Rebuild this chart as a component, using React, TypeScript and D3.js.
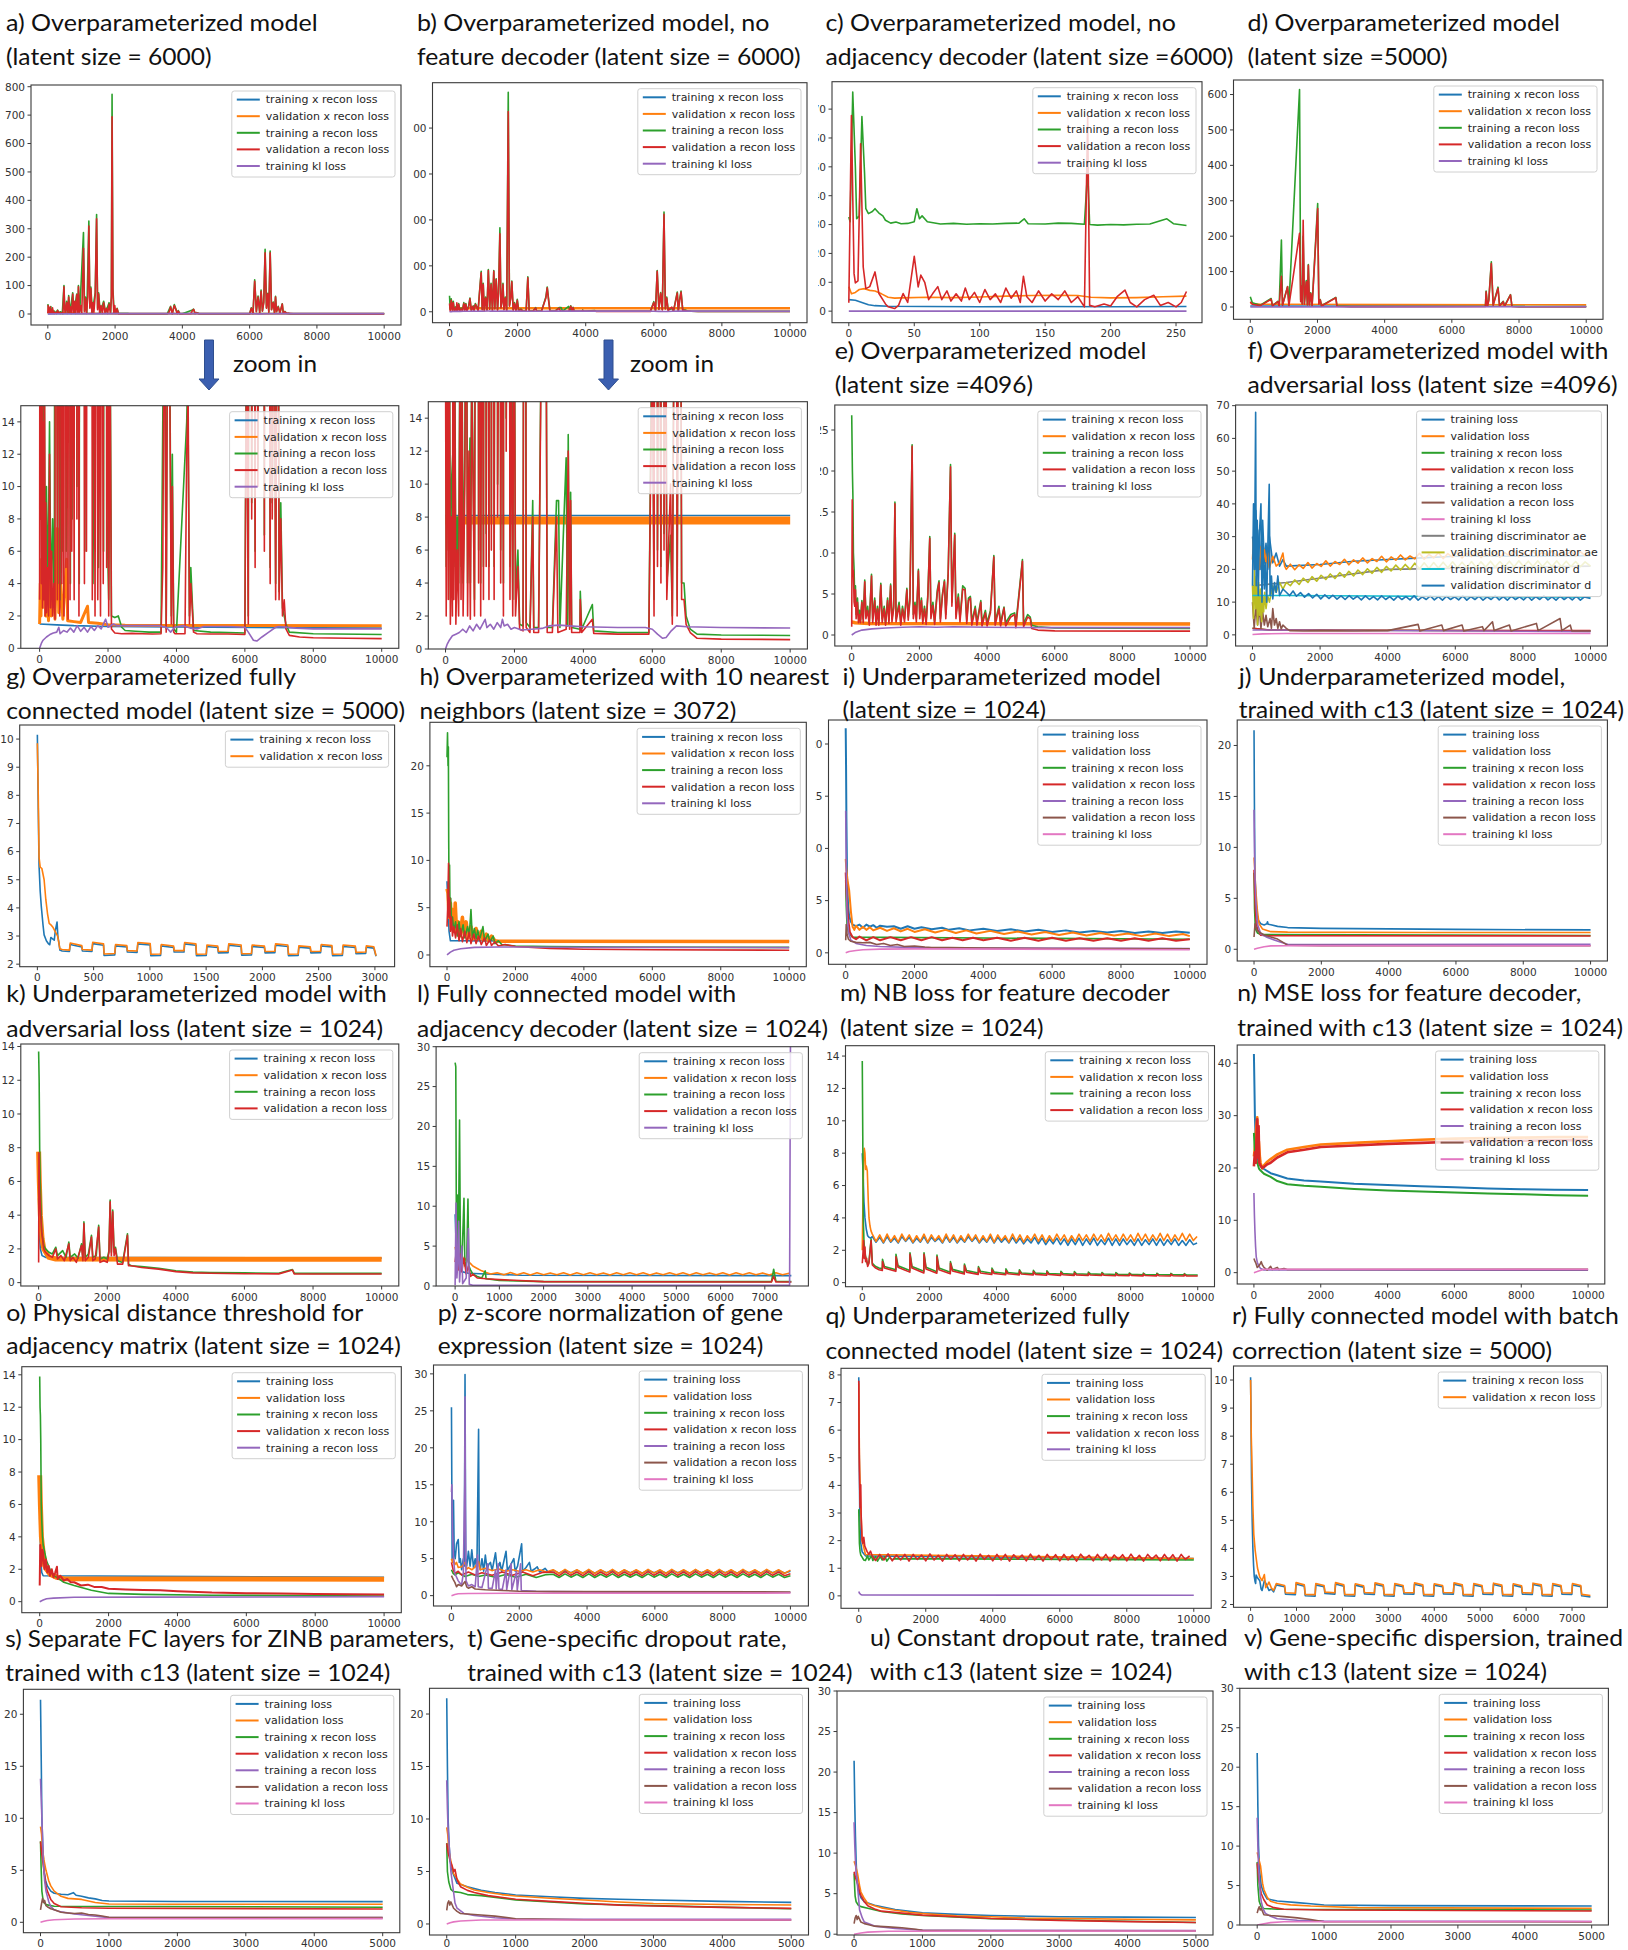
import React from "react";
import * as d3 from "d3";

// ---------- palette (matplotlib tab10) ----------
const BLUE = "#1f77b4";
const ORANGE = "#ff7f0e";
const GREEN = "#2ca02c";
const RED = "#d62728";
const PURPLE = "#9467bd";
const BROWN = "#8c564b";
const PINK = "#e377c2";
const GRAY = "#7f7f7f";
const OLIVE = "#bcbd22";
const CYAN = "#17becf";

type Pt = [number, number];
const pairs = (flat: number[]): Pt[] => {
  const out: Pt[] = [];
  for (let i = 0; i + 1 < flat.length; i += 2) out.push([flat[i], flat[i + 1]]);
  return out;
};
// values read at a regular epoch spacing
const sampled = (x0: number, dx: number, ys: number[]): number[] =>
  ys.flatMap((y, i) => [x0 + i * dx, y]);

// ---------- tick values ----------
const X10K = [0, 2000, 4000, 6000, 8000, 10000];
const X5K = [0, 1000, 2000, 3000, 4000, 5000];
const X3K = [0, 500, 1000, 1500, 2000, 2500, 3000];
const X7K = [0, 1000, 2000, 3000, 4000, 5000, 6000, 7000];
const X250 = [0, 50, 100, 150, 200, 250];
const Y800 = [0, 100, 200, 300, 400, 500, 600, 700, 800];
const Y400 = [0, 100, 200, 300, 400];
const Y600 = [0, 100, 200, 300, 400, 500, 600];
const Y70 = [0, 10, 20, 30, 40, 50, 60, 70];
const Y14 = [0, 2, 4, 6, 8, 10, 12, 14];
const Y25 = [0, 5, 10, 15, 20, 25];
const Y20 = [0, 5, 10, 15, 20];
const Y30 = [0, 5, 10, 15, 20, 25, 30];
const Y40 = [0, 10, 20, 30, 40];
const Y2to10 = [2, 3, 4, 5, 6, 7, 8, 9, 10];
const Y8 = [0, 1, 2, 3, 4, 5, 6, 7, 8];

// ---------- legend labels ----------
const L5 = ["training x recon loss", "validation x recon loss", "training a recon loss", "validation a recon loss", "training kl loss"];
const L7 = ["training loss", "validation loss", "training x recon loss", "validation x recon loss", "training a recon loss", "validation a recon loss", "training kl loss"];
const LO = ["training loss", "validation loss", "training x recon loss", "validation x recon loss", "training a recon loss"];
const LQ = ["training loss", "validation loss", "training x recon loss", "validation x recon loss", "training kl loss"];
const LF = ["training loss", "validation loss", "training x recon loss", "validation x recon loss", "training a recon loss", "validation a recon loss", "training kl loss", "training discriminator ae", "validation discriminator ae", "training discriminator d", "validation discriminator d"];

// ---------- (a) overparameterized, latent 6000 ----------
const aTrainX = [0,1.5, 500,1.45, 1000,1.4, 2000,1.35, 5000,1.3, 10000,1.25];
const aValX = [0,1.5, 20,4, 40,2, 60,5.5, 80,2.5, 100,7, 120,3, 150,6.5, 180,2, 220,3.8, 260,1.7, 300,5.5, 340,2, 400,3.5, 450,1.8, 520,7.4, 560,2.2, 620,4, 680,1.8, 790,5.5, 820,1.7, 1000,1.65, 1200,1.6, 1400,2.6, 1430,1.6, 1700,1.55, 2000,1.45, 2500,1.42, 10000,1.4];
const aTrainA = [0,35, 15,25, 30,10, 50,20, 70,9, 90,26, 110,4, 140,15, 170,3, 200,10, 240,3, 290,14, 330,3, 380,8, 430,2.5, 480,100, 500,25, 530,4, 560,45, 600,3, 620,65, 660,6, 740,75, 780,6, 860,70, 900,4, 910,100, 950,8, 1060,287, 1090,10, 1120,60, 1160,4, 1220,327, 1250,25, 1280,95, 1320,6, 1410,75, 1450,350, 1480,20, 1510,75, 1560,4, 1660,45, 1720,5, 1820,40, 1870,6, 1890,65, 1910,773, 1935,90, 1970,8, 2020,3, 2060,20, 2100,2, 2200,1.9, 2300,2.0, 2400,1.3, 2500,1.1, 2800,1.05, 3200,1.0, 3550,1.0, 3650,27, 3700,1.2, 3760,33, 3800,20, 3850,2, 3880,12, 3920,1.2, 4000,1.0, 4300,14, 4330,17, 4380,2, 4420,5, 4500,1.1, 5000,1.0, 6000,0.95, 6050,22, 6100,2, 6150,120, 6200,9, 6250,63, 6300,6, 6340,84, 6380,11, 6420,43, 6460,228, 6500,22, 6540,73, 6570,7, 6610,222, 6650,16, 6700,42, 6740,5, 6770,62, 6800,9, 6850,27, 6900,4, 6970,36, 7000,3.5, 7050,9, 7100,2.5, 7200,1.5, 7300,1.0, 8000,0.9, 10000,0.85];
const aValA = [0,3, 10,30, 25,8, 40,20, 55,4, 70,25, 85,2.5, 100,14, 120,3, 140,22, 160,2, 180,9, 200,2.2, 230,5, 260,2, 290,12, 320,2.5, 350,6, 380,2, 420,4, 450,1.8, 480,96, 500,20, 520,3, 560,40, 590,2, 620,60, 650,4, 680,25, 710,2, 740,70, 770,5, 800,45, 830,1.8, 860,68, 890,3, 910,96, 940,6, 980,30, 1010,3, 1060,231, 1090,8, 1120,55, 1150,2, 1190,60, 1220,310, 1250,20, 1280,90, 1310,4, 1340,40, 1370,6, 1410,70, 1450,335, 1480,15, 1510,70, 1540,3, 1580,30, 1620,2, 1660,40, 1700,3, 1740,20, 1780,2, 1820,35, 1860,4, 1890,60, 1910,694, 1935,80, 1960,5, 1990,30, 2020,2, 2060,18, 2100,1.2, 2200,0.95, 2400,0.9, 2700,0.92, 3000,0.9, 3300,0.88, 3550,0.9, 3600,5, 3650,25, 3700,1, 3760,30, 3800,18, 3850,1.5, 3880,10, 3920,1, 3960,0.9, 4250,0.9, 4300,12, 4340,16, 4380,1.5, 4420,4, 4500,1, 4600,0.9, 5000,0.88, 5500,0.88, 6000,0.85, 6050,20, 6100,1.5, 6150,115, 6200,8, 6250,60, 6300,5, 6340,80, 6380,10, 6420,40, 6460,215, 6500,20, 6540,70, 6570,6, 6610,215, 6650,15, 6700,40, 6740,4, 6770,60, 6800,8, 6850,25, 6900,3, 6970,35, 7000,3, 7050,8, 7100,2, 7150,3, 7200,1.2, 7300,0.8, 7600,0.7, 8000,0.65, 9000,0.62, 10000,0.6];
const aKl = [0,0, 50,0.3, 100,0.5, 200,0.7, 300,0.85, 400,0.95, 500,1.0, 560,1.3, 600,0.9, 700,1.1, 800,1.0, 900,1.25, 1000,1.0, 1100,1.4, 1200,1.05, 1300,1.3, 1400,1.0, 1500,1.35, 1600,1.1, 1700,1.4, 1800,1.2, 1930,1.8, 2000,1.3, 2160,1.5, 2250,1.4, 2500,1.4, 3000,1.4, 3500,1.4, 3700,1.3, 3830,1.0, 3950,1.3, 4200,1.4, 4400,1.25, 4600,1.2, 4800,1.35, 5500,1.35, 6000,1.3, 6100,1.0, 6250,0.5, 6350,0.45, 6500,0.7, 6700,1.0, 6900,1.3, 7000,1.35, 7500,1.25, 8000,1.2, 10000,1.2];

// ---------- (b) no feature decoder, latent 6000 ----------
const bTrainX = [0,8.1, 10000,8.1];
const bValX = [0,7.8, 10000,7.8];
const bTrainA = [0,35, 20,5, 50,28, 80,6, 110,23, 140,3, 170,10, 210,11.8, 240,5, 270,18, 300,3, 340,8, 380,4, 420,20, 450,5, 480,18, 510,4, 560,12, 600,30, 640,4, 710,12.8, 720,4, 760,18, 800,11, 840,3, 880,42, 930,88, 960,6, 990,62, 1020,4, 1060,32, 1100,5, 1140,92, 1180,7, 1220,62, 1260,5, 1300,90, 1330,8, 1370,72, 1410,5, 1440,42, 1480,183, 1510,10, 1540,22, 1570,62, 1600,6, 1640,32, 1680,4, 1725,478, 1760,14, 1800,32, 1830,67, 1870,5, 1910,20, 1950,3, 1990,27, 2030,3, 2100,6, 2150,1.5, 2250,1.4, 2300,76, 2340,1.6, 2450,1.3, 2530,9, 2560,1.3, 2700,1.3, 2830,32, 2870,54, 2910,27, 2950,1.3, 3100,1.3, 3220,9, 3280,9, 3320,1.3, 3500,11.6, 3540,1.4, 3560,13, 3600,1.4, 3630,9.5, 3660,1.3, 3900,1.2, 3910,3.5, 3950,1.2, 4260,2.7, 4300,1.1, 5000,1.0, 5900,1.0, 6000,22, 6050,3, 6100,90, 6150,6, 6200,42, 6250,5, 6300,217, 6340,7, 6380,32, 6420,4, 6530,6.9, 6580,2, 6690,43, 6720,3, 6760,27, 6800,45, 6850,4, 6920,4, 6980,2, 7100,1.2, 7300,0.9, 8000,0.85, 10000,0.82];
const bValA = [0,18, 20,2, 50,25, 80,3, 110,20, 140,1.5, 170,8, 200,2, 215,19.5, 240,3, 270,16, 300,1.5, 340,6, 380,2, 420,18, 450,3, 480,16, 510,2, 560,10, 600,28, 640,2, 680,12, 720,1.8, 760,16, 800,10, 840,2, 880,40, 930,85, 960,4, 990,60, 1020,2, 1060,30, 1100,3, 1140,90, 1180,5, 1220,60, 1260,3, 1300,88, 1330,6, 1370,70, 1410,3, 1440,40, 1480,170, 1510,8, 1540,20, 1570,60, 1600,4, 1640,30, 1680,2, 1725,436, 1760,12, 1800,30, 1830,65, 1870,3, 1910,18, 1950,2, 1990,25, 2030,2, 2100,5, 2150,1.2, 2250,1.1, 2300,74, 2340,1.3, 2450,1.0, 2530,8, 2560,1.0, 2700,1.0, 2830,30, 2870,52, 2910,25, 2950,1.0, 3100,1.0, 3220,8, 3260,1.0, 3500,1.2, 3560,12, 3600,1.2, 3630,9, 3660,1.0, 3900,1.0, 3910,3, 3950,1.0, 4260,1.8, 4300,0.95, 5000,0.9, 5900,0.9, 6000,20, 6050,2, 6100,88, 6150,5, 6200,40, 6250,4, 6300,212, 6340,6, 6380,30, 6420,3, 6530,10, 6580,1.5, 6690,41, 6720,2, 6760,25, 6800,43, 6850,3, 6920,3, 6980,1.5, 7100,1.0, 7300,0.65, 8000,0.6, 10000,0.57];
const bKl = [0,0, 50,0.3, 100,0.5, 200,0.8, 300,0.9, 400,1.0, 500,1.2, 600,1.0, 700,1.4, 800,1.1, 900,1.5, 1000,1.2, 1100,1.6, 1150,1.8, 1200,1.3, 1300,1.5, 1400,1.2, 1500,1.6, 1600,1.3, 1650,1.8, 1700,1.4, 1800,1.5, 1900,1.2, 2000,1.3, 2200,1.15, 2500,1.2, 2800,1.25, 3000,1.4, 3300,1.45, 3600,1.4, 4000,1.35, 5000,1.3, 5800,1.3, 6000,1.2, 6150,0.9, 6300,0.65, 6400,0.7, 6550,1.1, 6700,1.4, 7000,1.35, 8000,1.3, 10000,1.27];

// ---------- (c) no adjacency decoder, latent 6000 (epochs) ----------
const cTrainX = [0,4, 5,3.8, 10,3, 15,2.2, 20,1.9, 30,1.7, 60,1.6, 100,1.55, 150,1.6, 200,1.55, 258,1.6];
const cValX = [0,8.5, 2,6, 5,6.5, 8,7.5, 12,7.8, 16,7.2, 20,7.0, 25,6.0, 30,4.8, 35,4.5, 40,4.6, 60,4.8, 80,4.7, 100,4.9, 120,5.2, 140,5.4, 160,5.5, 175,5.4, 185,4.8, 200,4.6, 220,4.7, 240,5.0, 258,5.2];
const cTrainA = [0,32.6, 1,31, 3,75.9, 5,50, 6,32, 8,33, 10,67.4, 12,48, 13,35.5, 15,33.8, 18,34.5, 20,35.5, 23,34, 26,33, 28,31.5, 32,30.5, 36,30.9, 40,30.3, 45,30.4, 50,31, 52,35.5, 54,32, 56,33, 60,31, 70,30.2, 80,30.4, 90,30.1, 100,30.3, 110,30.2, 120,30.4, 130,30.5, 134,32, 137,30.3, 150,30.2, 160,30.5, 170,30.4, 180,30.1, 182.5,49, 184,30, 190,29.8, 200,30.0, 210,29.9, 220,30.1, 230,30.2, 243,32, 248,30.3, 258,29.7];
const cValA = [0,2.9, 2,67.8, 4,13, 5,9.8, 7,10.5, 9,58, 11,15.3, 13,7.8, 16,8.5, 20,13.6, 23,6.1, 28,2.5, 30,1.5, 35,0.9, 38,2, 41.5,6.1, 45,3, 50,19, 53,8.4, 55,12.5, 58,10, 61,4, 64,6, 68,8.5, 71,4, 75,7, 78,3.5, 82,6, 86,3.5, 89,8, 92,4, 96,6.5, 100,3, 104,7.5, 108,4, 112,6, 116,3, 120,8, 124,4.5, 128,7, 131,3, 133.4,12.1, 136,5, 140,3, 145,7, 150,3.5, 155,6, 160,4, 165,7, 170,3, 175,5, 180,1.5, 182.5,67.5, 184,2, 188,1.5, 195,2.5, 200,1.8, 205,5, 211,7.3, 215,3, 220,1.5, 226,4, 233,5.5, 238,2, 244,3, 250,1.5, 254,3, 258,6.8];
const cKl = [0,0, 258,0];

// ---------- (d) overparameterized, latent 5000 ----------
const dTrainX = [0,3, 10000,2];
const dValX = [0,10, 300,8, 10000,6];
const dTrainA = [0,29, 60,12, 300,5, 620,24, 660,4, 820,16, 860,4, 926,189, 960,6, 1110,58, 1150,5, 1466,614, 1500,20, 1520,60, 1545,10, 1574,200, 1610,10, 1666,75, 1700,8, 1728,120, 1760,8, 1800,40, 1840,5, 2006,292, 2040,10, 2083,21, 2120,4, 2546,27, 2580,3, 3000,1.5, 7000,2, 7020,45, 7060,3, 7100,20, 7175,128, 7230,6, 7375,56, 7420,4, 7530,16, 7570,3, 7746,35, 7790,2, 8000,1.2, 10000,1];
const dValA = [0,15, 60,8, 300,4, 620,22, 660,3, 820,15, 860,3, 926,87, 960,5, 1110,57, 1150,4, 1466,208, 1500,15, 1520,58, 1545,8, 1574,245, 1610,8, 1666,71, 1700,6, 1728,118, 1760,6, 1800,38, 1840,4, 2006,278, 2040,8, 2083,20, 2120,3, 2546,26, 2580,2, 3000,1, 7000,1.5, 7020,43, 7060,2, 7100,18, 7175,123, 7230,5, 7375,53, 7420,3, 7530,15, 7570,2, 7746,34, 7790,1.5, 8000,0.8, 10000,0.7];
const dKl = [0,0, 10000,1];

// ---------- (e) overparameterized, latent 4096 ----------
const eTrainX = [0,1.5, 200,1.45, 10000,1.4];
const eValX = [0,1.6, 100,1.5, 500,1.4, 10000,1.35];
const eTrainA = [0,26.8, 20,20, 35,17, 50,10, 70,8, 90,4, 110,6, 130,2.5, 170,4.5, 200,2, 230,3, 260,1.8, 300,4.2, 340,2, 385,6.7, 420,2.5, 470,3.5, 520,1.6, 585,7.4, 620,2, 680,4.5, 720,1.6, 760,3.5, 800,1.5, 860,6.3, 900,2, 960,3.5, 1000,1.5, 1060,4.5, 1100,1.8, 1150,6.2, 1190,2.0, 1240,3.5, 1277,16.2, 1310,2, 1400,4, 1450,1.5, 1500,3.5, 1560,2, 1630,5.7, 1670,2.2, 1720,4.5, 1785,23.2, 1820,2.5, 1870,4, 1910,2, 1970,8.0, 2010,2.5, 2060,4.5, 2100,1.8, 2150,3.5, 2200,1.7, 2250,5, 2307,12, 2340,2.5, 2400,4, 2450,1.7, 2530,5.5, 2580,6.6, 2620,2, 2680,5, 2740,6.7, 2780,2.5, 2850,7.5, 2920,20.8, 2960,4, 3045,12.4, 3080,2.5, 3150,5, 3200,2, 3280,6, 3350,5.7, 3400,1.8, 3450,4.5, 3507,4.7, 3550,1.6, 3650,3.5, 3700,1.6, 3815,4.2, 3850,1.5, 3950,3, 4000,1.5, 4100,3, 4200,9.7, 4240,1.6, 4350,3.5, 4400,1.5, 4500,3.4, 4550,1.5, 4700,2.5, 4815,2.7, 4850,1.3, 5045,9.2, 5080,1.4, 5200,2.5, 5275,2.2, 5320,1.2, 5500,1.0, 6000,0.85, 10000,0.8];
const eValA = [0,1.0, 15,16.5, 30,8, 50,7.8, 70,4, 90,3.5, 110,5.5, 130,2, 170,4, 200,1.5, 230,2.5, 260,1.5, 300,4, 340,1.5, 385,6.5, 420,2, 470,3, 520,1.2, 585,7.2, 620,1.5, 680,4.2, 720,1.2, 760,3.2, 800,1.2, 860,6.1, 900,1.5, 960,3.2, 1000,1.2, 1060,4.2, 1100,1.4, 1150,6.0, 1190,1.6, 1240,3.2, 1277,16.0, 1310,1.6, 1400,3.6, 1450,1.2, 1500,3.2, 1560,1.6, 1630,5.5, 1670,1.8, 1720,4.2, 1785,23.0, 1820,2, 1870,3.6, 1910,1.6, 1970,7.8, 2010,2, 2060,4.2, 2100,1.4, 2150,3.2, 2200,1.3, 2250,4.7, 2307,11.8, 2340,2, 2400,3.6, 2450,1.3, 2530,5.2, 2580,6.4, 2620,1.6, 2680,4.7, 2740,6.5, 2780,2, 2850,7.3, 2920,20.5, 2960,3.5, 3045,12.2, 3080,2, 3150,4.6, 3200,1.6, 3280,5.6, 3350,5.5, 3400,1.4, 3450,4.2, 3507,4.5, 3550,1.2, 3650,3.2, 3700,1.2, 3815,4.0, 3850,1.1, 3950,2.7, 4000,1.1, 4100,2.7, 4200,9.5, 4240,1.2, 4350,3.2, 4400,1.1, 4500,3.3, 4550,1.1, 4700,2.2, 4815,2.5, 4850,0.9, 5045,9.0, 5080,1.0, 5200,2.2, 5275,2.0, 5320,0.8, 5500,0.6, 6000,0.5, 10000,0.48];
const eKl = [0,0, 100,0.3, 300,0.6, 600,0.75, 1000,0.85, 1500,0.95, 2000,1.0, 2500,0.95, 3000,1.0, 4000,0.95, 5000,0.92, 6000,0.9, 10000,0.9];

// ---------- (f) adversarial loss, latent 4096 ----------
const fTrain = [0,30, 50,25, 100,38, 150,22, 200,32, 250,20, 300,35, 350,22, 400,28, 450,20, 500,30, 600,22, 700,25, 800,21, 900,23, 1000,21, 2000,21.5, 3000,22.5, 4000,23, 5000,23.5, 6000,24, 8000,24, 10000,24.2];
const fVal = [0,23, 30,30, 60,20, 90,28, 120,22, 160,26, 200,20, 250,27, 300,21, 350,26, 400,22, 450,25, 500,20.5, 600,24, 700,21, 800,22, 900,25, 950,21, 1000,20, 1120,21.6, 1250,19.9, 1380,21.4, 1500,20.3, 1640,22.1, 1760,20.4, 1900,21.8, 2030,20.9, 2170,22.6, 2300,21.0, 2440,22.4, 2580,21.5, 2720,23.1, 2850,21.4, 2990,22.9, 3120,21.9, 3260,23.5, 3400,22.0, 3540,23.3, 3680,22.4, 3820,24.0, 3960,22.3, 4100,23.8, 4240,22.8, 4380,24.4, 4520,22.9, 4660,24.1, 4800,23.2, 4940,24.9, 5080,23.1, 5220,24.6, 5360,23.5, 5500,25.1, 5640,23.3, 5780,24.8, 5920,23.7, 6060,25.3, 6200,23.5, 6340,24.9, 6480,23.9, 6620,25.4, 6760,23.6, 6900,25.0, 7040,24.0, 7180,25.5, 7320,23.7, 7460,25.1, 7600,24.1, 7740,25.6, 7880,23.8, 8020,25.2, 8160,24.2, 8300,25.6, 8440,23.9, 8580,25.3, 8720,24.2, 8860,25.7, 9000,24.0, 9140,25.3, 9280,24.3, 9420,25.7, 9560,24.0, 9700,25.4, 9840,24.2, 10000,25.0];
const fTrainX = [0,2, 500,1.5, 10000,1.2];
const fValX = [0,2, 500,1.5, 10000,1.3];
const fTrainA = [0,1.5, 10000,1];
const fValA = [0,10, 50,2, 100,9, 150,3, 200,8.5, 250,2, 300,7, 350,3, 400,6, 450,2.5, 520,5, 560,2, 600,8, 650,3, 700,5, 750,2, 800,4, 850,1.8, 900,3, 1000,2, 1100,1.3, 1500,1.2, 2000,1.3, 3000,1.2, 4000,1.3, 4900,3.2, 4950,1.2, 5600,3, 5650,1.3, 6200,3, 6250,1.2, 6800,2.5, 6850,1.3, 7100,4, 7150,1.3, 7600,3, 7650,1.2, 8400,3.5, 8450,1.3, 9100,5, 9150,1.3, 9400,3, 9450,1.2, 10000,1.2];
const fKl = [0,0.1, 300,0.3, 1000,0.4, 10000,0.4];
const fTrainDAe = [0,15, 1000,16, 4000,20, 10000,21];
const fValDAe = [0,15, 30,5, 60,20, 90,8, 120,18, 150,3, 180,16, 210,6, 240,14, 270,4, 300,12, 330,7, 360,13, 400,8, 450,12, 500,10, 600,15, 700,13, 800,16, 900,14, 1000,16, 1120,15.0, 1250,16.8, 1380,15.4, 1500,17.3, 1640,16.0, 1760,17.8, 1900,16.4, 2030,18.2, 2170,16.9, 2300,18.6, 2440,17.2, 2580,19.0, 2720,17.6, 2850,19.4, 2990,18.0, 3120,19.8, 3260,18.4, 3400,20.2, 3540,18.8, 3680,20.6, 3820,19.1, 3960,20.9, 4100,19.5, 4240,21.3, 4380,19.8, 4520,21.5, 4660,20.0, 4800,21.9, 4940,20.2, 5080,22.0, 5220,20.3, 5360,22.1, 5500,20.4, 5640,22.2, 5780,20.5, 5920,22.3, 6060,20.5, 6200,22.2, 6340,20.6, 6480,22.4, 6620,20.6, 6760,22.3, 6900,20.7, 7040,22.5, 7180,20.7, 7320,22.4, 7460,20.8, 7600,22.5, 7740,20.8, 7880,22.6, 8020,20.9, 8160,22.5, 8300,20.9, 8440,22.6, 8580,20.8, 8720,22.5, 8860,20.9, 9000,22.6, 9140,20.8, 9280,22.5, 9420,20.9, 9560,22.4, 9700,20.8, 9840,22.3, 10000,21.0];
const fTrainDD = [0,12, 1000,12, 10000,11.5];
const fValDD = [0,15, 30,40, 60,20, 93,68, 110,15, 140,35, 170,12, 200,30, 250,40, 280,10, 310,28, 350,14, 380,22, 420,10, 460,30, 495,46, 520,12, 560,18, 600,11, 650,16, 700,13, 750,18, 800,12, 900,14, 1000,13, 1100,12.0, 1200,13.4, 1300,11.8, 1420,12.9, 1540,11.5, 1660,12.6, 1780,11.3, 1900,12.4, 2020,11.0, 2140,12.2, 2260,11.1, 2380,12.1, 2500,10.9, 2620,11.9, 2740,10.8, 2860,12.0, 2980,10.9, 3100,11.8, 3220,10.7, 3340,11.9, 3460,10.8, 3580,11.7, 3700,10.7, 3820,11.9, 3940,10.8, 4060,11.7, 4180,10.6, 4300,11.8, 4420,10.8, 4540,11.7, 4660,10.7, 4780,11.9, 4900,10.6, 5020,11.6, 5140,10.8, 5260,11.9, 5380,10.7, 5500,11.7, 5620,10.6, 5740,11.8, 5860,10.8, 5980,11.6, 6100,10.7, 6220,11.9, 6340,10.6, 6460,11.7, 6580,10.8, 6700,11.8, 6820,10.6, 6940,11.6, 7060,10.8, 7180,11.9, 7300,10.7, 7420,11.7, 7540,10.6, 7660,11.8, 7780,10.8, 7900,11.6, 8020,10.7, 8140,11.8, 8260,10.6, 8380,11.7, 8500,10.8, 8620,11.9, 8740,10.7, 8860,11.6, 8980,10.6, 9100,11.8, 9220,10.8, 9340,11.7, 9460,10.7, 9580,11.8, 9700,10.6, 9820,11.6, 10000,11.1];

// ---------- (g) fully connected, latent 5000 ----------
const gTrainX = [0,10.15, 8,7.5, 15,5.5, 25,4.6, 35,4.05, 50,3.4, 60,3.04, 80,2.83, 100,2.72, 110,2.69, 120,2.95, 135,2.9, 150,2.85, 160,3.2, 175,3.5, 182,3.0, 190,2.8, 200,2.5, 220,2.47, 285,2.45, 292,2.7, 395,2.61, 400,2.47, 485,2.45, 492,2.73, 588,2.67, 593,2.31, 688,2.33, 695,2.65, 795,2.61, 800,2.43, 886,2.42, 893,2.72, 1003,2.68, 1008,2.3, 1095,2.31, 1101,2.65, 1211,2.59, 1216,2.43, 1303,2.43, 1309,2.72, 1409,2.67, 1414,2.3, 1501,2.31, 1507,2.63, 1603,2.59, 1609,2.4, 1695,2.41, 1701,2.67, 1811,2.63, 1816,2.32, 1903,2.33, 1909,2.63, 2018,2.59, 2024,2.4, 2111,2.41, 2117,2.67, 2226,2.63, 2232,2.3, 2318,2.31, 2324,2.6, 2425,2.57, 2431,2.4, 2517,2.41, 2523,2.65, 2618,2.61, 2624,2.3, 2711,2.31, 2717,2.63, 2826,2.59, 2832,2.37, 2918,2.38, 2924,2.6, 2990,2.57, 3010,2.28];
const gValX = [0,9.85, 8,8, 15,5.8, 25,5.45, 40,5.4, 60,5.0, 75,4.3, 90,3.8, 105,3.45, 120,3.4, 140,3.3, 160,3.15, 180,3.0, 200,2.55, 220,2.52, 285,2.5, 292,2.75, 395,2.66, 400,2.52, 485,2.5, 492,2.78, 588,2.72, 593,2.36, 688,2.38, 695,2.7, 795,2.66, 800,2.48, 886,2.47, 893,2.77, 1003,2.73, 1008,2.35, 1095,2.36, 1101,2.7, 1211,2.64, 1216,2.48, 1303,2.48, 1309,2.77, 1409,2.72, 1414,2.35, 1501,2.36, 1507,2.68, 1603,2.64, 1609,2.45, 1695,2.46, 1701,2.72, 1811,2.68, 1816,2.37, 1903,2.38, 1909,2.68, 2018,2.64, 2024,2.45, 2111,2.46, 2117,2.72, 2226,2.68, 2232,2.35, 2318,2.36, 2324,2.65, 2425,2.62, 2431,2.45, 2517,2.46, 2523,2.7, 2618,2.66, 2624,2.35, 2711,2.36, 2717,2.68, 2826,2.64, 2832,2.42, 2918,2.43, 2924,2.65, 2990,2.62, 3010,2.3];

// ---------- (h) 10 nearest neighbors, latent 3072 ----------
const hTrainX = [0,7.8, 30,5, 60,2.5, 100,1.5, 10000,1.45];
const hValX = [0,7, 30,6.5, 60,4, 100,5.5, 130,3, 160,4.8, 200,2.5, 240,5.5, 280,2.5, 330,3.5, 380,2, 450,4, 500,2.2, 560,3.5, 620,1.8, 700,3, 760,1.7, 850,2.8, 900,1.7, 1000,2.5, 1050,1.6, 1150,2.2, 1200,1.55, 1300,2, 1400,1.5, 1500,1.45, 10000,1.42];
const hTrainA = [0,20.9, 15,23.5, 30,20, 40,22, 50,12, 60,6, 75,9.5, 90,4, 110,6, 130,3, 160,4, 200,2.5, 250,3.5, 300,2, 350,3.5, 400,2, 470,3.2, 520,1.8, 600,3.0, 650,2, 700,4.8, 740,1.8, 800,2.8, 850,1.7, 900,2.6, 950,1.6, 1050,3.0, 1100,1.5, 1200,2.2, 1250,1.4, 1350,2.0, 1400,1.2, 1500,1.5, 1600,1.1, 2000,0.95, 3000,0.9, 5000,0.85, 10000,0.8];
const hValA = [0,3, 20,5, 45,9.7, 60,4, 80,6, 100,2.5, 130,4, 160,2, 200,3, 250,1.8, 300,3.2, 350,1.5, 400,2.8, 450,1.4, 520,2.5, 580,1.3, 650,2.4, 700,1.2, 780,2.2, 850,1.2, 920,2, 1000,1.1, 1100,1.8, 1150,1.0, 1250,1.6, 1300,1.0, 1400,1.4, 1500,0.95, 1700,1.1, 2000,0.9, 3000,0.7, 4000,0.6, 6000,0.55, 10000,0.5];
const hKl = [0,0, 100,0.3, 200,0.5, 400,0.65, 800,0.8, 1500,0.85, 2000,0.85, 3000,0.82, 5000,0.8, 10000,0.78];

// ---------- (i) underparameterized, latent 1024 ----------
const iTrain = [0,21.5, 10,18, 20,13, 40,7, 70,4.5, 100,3.5, 150,3.0, 200,2.7, 300,2.56, 400,2.7, 500,2.4, 600,2.7, 700,2.5, 800,2.65, 900,2.4, 1000,2.6, 1200,2.5, 1400,2.55, 1600,2.3, 1800,2.55, 2000,2.3, 2200,2.45, 2500,2.25, 2800,2.4, 3000,2.2, 3300,2.35, 3600,2.15, 4000,2.3, 4400,2.1, 4800,2.25, 5200,2.05, 5600,2.2, 6000,2.0, 6400,2.15, 6800,1.95, 7200,2.1, 7600,1.95, 8000,2.1, 8400,1.9, 8800,2.05, 9200,1.9, 9600,2.05, 10000,1.92];
const iVal = [0,9, 20,8, 50,7, 100,6, 150,4, 200,2.5, 250,2.2, 300,2.6, 400,2.2, 500,2.5, 600,2.2, 700,2.45, 800,2.15, 1000,2.4, 1200,2.1, 1400,2.35, 1600,2.05, 1800,2.3, 2000,2.0, 2300,2.25, 2600,1.95, 2900,2.2, 3200,1.9, 3500,2.15, 3800,1.85, 4200,2.1, 4600,1.8, 5000,2.05, 5400,1.75, 5800,2.0, 6200,1.7, 6600,1.95, 7000,1.65, 7400,1.9, 7800,1.65, 8200,1.85, 8600,1.6, 9000,1.85, 9400,1.6, 9800,1.8, 10000,1.6];
const iTrainX = [0,7, 15,4.5, 40,2.5, 100,1.8, 200,1.5, 10000,1.3];
const iValX = [0,7.7, 20,6, 50,4, 80,3, 120,2, 200,1.5, 300,1.3, 400,1.55, 600,1.2, 800,1.5, 1000,1.2, 1300,1.5, 1600,1.2, 1900,1.5, 2200,1.2, 2500,1.5, 2800,1.2, 3100,1.45, 3400,1.2, 3700,1.45, 4000,1.2, 4400,1.45, 4800,1.15, 5200,1.45, 5600,1.15, 6000,1.45, 6400,1.15, 6800,1.4, 7200,1.15, 7600,1.4, 8000,1.15, 8400,1.4, 8800,1.15, 9200,1.4, 9600,1.15, 10000,1.3];
const iTrainA = [0,13.6, 15,8, 40,3.5, 80,2, 150,1.2, 300,0.9, 600,0.7, 1000,0.6, 2000,0.5, 4000,0.45, 10000,0.42];
const iValA = [0,1.2, 15,2.7, 40,1.8, 80,1.3, 150,1.1, 300,1.0, 500,0.96, 700,1.0, 900,0.8, 1100,0.9, 1300,0.7, 1500,0.8, 1700,0.6, 2000,0.65, 2300,0.55, 2500,0.51, 3000,0.5, 4000,0.45, 6000,0.42, 8000,0.4, 10000,0.38];
const iKl = [0,0, 100,0.12, 300,0.22, 500,0.3, 1000,0.35, 2000,0.38, 10000,0.3];

// ---------- (j) underparameterized, c13 ----------
const jTrain = [0,21.5, 10,15, 25,8, 50,5, 100,3, 200,2.5, 300,2.39, 380,2.5, 400,2.7, 420,2.45, 500,2.4, 700,2.25, 1000,2.13, 2000,2.05, 4000,2.0, 6000,1.95, 10000,1.9];
const jVal = [0,9, 20,8, 40,6.5, 60,5.5, 100,3.8, 150,2.5, 250,2.0, 500,1.73, 1000,1.68, 5000,1.65, 10000,1.64];
const jTrainX = [0,7.5, 15,4, 40,2, 100,1.6, 200,1.45, 10000,1.35];
const jValX = [0,7.8, 20,5.5, 40,3.8, 60,2.8, 100,2.0, 200,1.37, 500,1.33, 10000,1.31];
const jTrainA = [0,13.7, 20,8, 50,5, 100,2.5, 200,1.5, 400,1.15, 600,0.92, 800,0.7, 1000,0.49, 2000,0.47, 10000,0.48];
const jValA = [0,1.2, 30,2.5, 60,2.2, 100,1.8, 200,1.6, 300,1.4, 500,1.2, 700,1.0, 850,0.7, 1000,0.39, 2000,0.36, 10000,0.35];
const jKl = [0,0, 100,0.1, 300,0.25, 500,0.33, 1000,0.35, 10000,0.35];

// ---------- (k) underparameterized with adversarial loss ----------
const kTrainX = [0,5, 20,3, 50,2, 100,1.6, 200,1.5, 10000,1.45];
const kValX = [0,7.77, 20,6, 50,4, 100,2.6, 150,2, 300,1.5, 500,1.4, 10000,1.38];
const kTrainA = [0,13.7, 15,12, 30,8, 45,6, 60,5, 90,3, 120,2.6, 150,2.2, 200,2, 300,1.8, 400,1.7, 500,2.1, 550,1.6, 700,1.9, 800,1.5, 880,2.4, 920,1.5, 1050,1.7, 1150,1.45, 1250,2.3, 1290,1.5, 1320,3.6, 1360,1.5, 1450,1.7, 1540,2.8, 1580,1.5, 1680,1.6, 1750,3.4, 1790,1.4, 1900,1.5, 2000,1.4, 2050,1.9, 2085,4.9, 2120,1.8, 2160,4.3, 2200,1.8, 2240,2.1, 2300,1.3, 2450,1.2, 2590,2.9, 2620,1.1, 2700,1.0, 3000,0.95, 3500,0.85, 4000,0.7, 4500,0.62, 5000,0.6, 6000,0.58, 7000,0.56, 7400,0.78, 7450,0.56, 8000,0.55, 10000,0.55];
const kValA = [0,1.2, 10,7.7, 25,5.5, 40,5, 60,4, 90,3, 120,2.5, 150,2, 200,1.8, 300,1.6, 400,1.5, 500,2.0, 550,1.4, 650,1.6, 750,1.3, 880,2.3, 920,1.3, 1000,1.5, 1100,1.2, 1250,2.2, 1290,1.3, 1320,3.5, 1360,1.3, 1450,1.5, 1540,2.7, 1580,1.3, 1650,1.4, 1750,3.3, 1790,1.2, 1900,1.3, 2000,1.2, 2050,1.8, 2085,4.8, 2120,1.6, 2160,4.2, 2200,1.6, 2240,2.0, 2300,1.1, 2450,1.1, 2590,2.8, 2620,1.0, 2700,1.0, 3000,0.9, 3500,0.8, 4000,0.65, 4500,0.58, 5000,0.56, 6000,0.53, 7000,0.52, 7400,0.75, 7450,0.52, 8000,0.51, 10000,0.51];

// ---------- (l) fully connected with adjacency decoder ----------
const lTrainX = [0,9, 30,4, 80,2.5, 150,1.8, 300,1.6, 700,1.5, 1500,1.35, 7600,1.3];
const lValOsc = [1.5,1.65,1.4,1.68,1.42,1.65,1.38,1.66,1.4,1.64, 1.42,1.67,1.38,1.65,1.4,1.66,1.42,1.64,1.38,1.67, 1.4,1.65,1.42,1.66,1.38,1.64,1.4,1.67,1.42,1.65, 1.38,1.66,1.4,1.64,1.42,1.67,1.38,1.65,1.4,1.66, 1.42,1.64,1.38,1.66,1.4,1.6];
const lValX = [0,4.9, 30,4, 60,5, 100,3.5, 150,4, 200,3, 250,3.5, 300,3.06, 350,2.8, 400,2.5, 500,2.2, 600,1.9, 700,1.68, ...sampled(800, 150, lValOsc)];
const lTrainA = [0,28, 15,27.5, 30,5, 50,11.4, 70,3, 100,20.8, 120,4, 150,2.5, 200,11, 220,2.5, 260,3, 290,10.9, 310,2.5, 350,2, 400,1.5, 500,1.2, 600,1.0, 680,1.9, 700,0.9, 1000,0.7, 2000,0.55, 7150,0.55, 7200,2.1, 7250,0.6, 7600,0.55];
const lValA = [0,3, 30,4.5, 50,4.9, 80,2, 110,4, 150,1.8, 200,3.5, 250,1.5, 300,2.5, 350,1.2, 400,1.5, 500,1.0, 700,0.9, 1000,0.8, 2000,0.55, 7150,0.5, 7200,1.2, 7250,0.5, 7600,0.5];
const lKl = [0,0.1, 20,10.4, 40,1, 60,3, 80,8.1, 100,0.5, 150,5, 170,0.3, 250,1, 300,7.2, 320,0.2, 400,0.1, 1000,0.1, 7560,0.1, 7580,31];

// ---------- (m) NB loss for feature decoder ----------
const mTrainOsc = [2.85,2.5,2.8,2.45,2.85,2.5,2.75,2.45,2.85,2.55, 2.8,2.45,2.75,2.5,2.85,2.45,2.8,2.55,2.75,2.45, 2.85,2.5,2.8,2.45,2.75,2.5,2.85,2.55,2.8,2.45, 2.75,2.5,2.85,2.45,2.8,2.5,2.75,2.45,2.8,2.45, 2.75,2.4,2.7,2.45,2.8,2.4,2.75,2.35,2.7,2.4, 2.75,2.35,2.7,2.3,2.7,2.35,2.75,2.3,2.7,2.35, 2.75,2.3,2.65,2.35,2.75,2.3,2.7,2.3,2.7,2.35, 2.65,2.3,2.7,2.3,2.65,2.35,2.7,2.3,2.7,2.3, 2.65,2.35,2.7,2.3,2.6,2.3,2.65,2.35,2.45];
const mValOsc = [3.0,2.55,2.95,2.5,3.0,2.55,2.9,2.5,3.0,2.6, 2.95,2.5,2.9,2.55,3.0,2.5,2.95,2.6,2.9,2.5, 3.0,2.55,2.95,2.5,2.9,2.55,3.0,2.6,2.95,2.5, 2.9,2.55,3.0,2.5,2.95,2.6,2.9,2.5,3.0,2.55, 2.95,2.5,2.9,2.6,3.0,2.55,2.95,2.5,2.9,2.55, 3.0,2.6,2.95,2.5,2.9,2.55,3.0,2.6,2.95,2.55, 3.0,2.6,2.95,2.55,3.05,2.6,2.95,2.55,3.0,2.6, 2.95,2.55,3.05,2.6,3.0,2.55,2.95,2.6,3.05,2.6, 3.0,2.55,2.95,2.6,3.05,2.6,3.0,2.6,2.85];
const mTrainX = [0,8, 20,7, 50,5, 80,4, 120,3.3, 160,2.9, 200,2.8, 250,2.75, ...sampled(300, 110, mTrainOsc)];
const mValX = [0,2, 20,5, 40,7.5, 60,8.3, 80,8.0, 100,7.0, 120,7.2, 150,6.9, 180,5, 200,4, 230,3.5, 260,3.2, ...sampled(300, 110, mValOsc)];
const mTrainA = [0,13.7, 15,9, 30,4, 50,2.6, 70,2.0, 100,1.6, 130,1.3, 160,1.1, 200,1.3, 263,2.7, 300,1.2, 400,1.0, 500,0.9, 598,0.85, 603,1.45, 660,1.0, 1000,0.8, 1005,1.75, 1065,1.05, 1417,0.75, 1422,1.85, 1482,1.0, 1835,0.7, 1840,1.85, 1900,0.95, 2222,0.68, 2227,1.7, 2287,0.9, 2624,0.65, 2629,1.3, 2689,0.82, 3041,0.62, 3046,1.15, 3106,0.75, 3458,0.6, 3463,1.0, 3523,0.7, 3861,0.58, 3866,0.9, 3926,0.66, 4278,0.57, 4283,0.85, 4343,0.63, 4679,0.56, 4684,0.8, 4744,0.6, 5097,0.55, 5102,0.76, 5162,0.59, 5499,0.54, 5504,0.73, 5564,0.57, 5916,0.53, 5921,0.7, 5981,0.56, 6318,0.52, 6323,0.68, 6383,0.55, 6736,0.52, 6741,0.65, 6801,0.54, 7138,0.51, 7143,0.63, 7203,0.53, 7555,0.5, 7560,0.62, 7620,0.52, 7957,0.5, 7962,0.6, 8022,0.51, 8374,0.49, 8379,0.59, 8439,0.5, 8776,0.49, 8781,0.58, 8841,0.5, 9194,0.48, 9199,0.57, 9259,0.49, 9596,0.48, 9601,0.56, 9661,0.48, 10000,0.47];
const mValA = [0,1.2, 20,1.8, 40,2.6, 60,1.5, 80,2.2, 100,1.3, 130,1.5, 160,1.0, 200,1.2, 263,2.6, 300,1.1, 400,0.9, 500,0.8, 598,0.75, 603,1.3, 660,0.9, 1000,0.7, 1005,1.6, 1065,0.95, 1417,0.65, 1422,1.75, 1482,0.9, 1835,0.6, 1840,1.75, 1900,0.85, 2222,0.58, 2227,1.6, 2287,0.8, 2624,0.55, 2629,1.2, 2689,0.72, 3041,0.53, 3046,1.05, 3106,0.65, 3458,0.51, 3463,0.9, 3523,0.6, 3861,0.5, 3866,0.8, 3926,0.57, 4278,0.49, 4283,0.75, 4343,0.55, 4679,0.48, 4684,0.72, 4744,0.53, 5097,0.47, 5102,0.68, 5162,0.51, 5499,0.46, 5504,0.65, 5564,0.5, 5916,0.45, 5921,0.62, 5981,0.49, 6318,0.45, 6323,0.6, 6383,0.48, 6736,0.44, 6741,0.58, 6801,0.47, 7138,0.44, 7143,0.56, 7203,0.46, 7555,0.43, 7560,0.55, 7620,0.45, 7957,0.43, 7962,0.54, 8022,0.45, 8374,0.42, 8379,0.53, 8439,0.44, 8776,0.42, 8781,0.52, 8841,0.43, 9194,0.41, 9199,0.52, 9259,0.43, 9596,0.41, 9601,0.51, 9661,0.42, 10000,0.41];

// ---------- (n) MSE loss for feature decoder ----------
const nTrain = [0,41.8, 15,36, 30,29.8, 60,24, 100,22, 150,21, 200,20.3, 300,19.8, 500,19, 700,18.6, 1000,18, 1500,17.6, 2000,17.4, 3000,17.0, 4000,16.75, 5000,16.5, 6000,16.3, 7000,16.1, 8000,15.95, 9000,15.85, 10000,15.8];
const nVal = [0,22.2, 30,24, 60,27, 100,29.7, 120,26, 150,25, 180,22, 200,21, 250,19.9, 300,20.5, 400,21.2, 500,21.7, 700,22.6, 1000,23.5, 1500,24.0, 2000,24.5, 3000,24.8, 4000,25.1, 5000,25.4, 6000,25.6, 7000,25.7, 8000,25.8, 9000,25.9, 10000,25.9];
const nTrainX = [0,26.7, 20,24, 50,22, 100,21, 150,19.9, 200,19.5, 300,18.9, 500,18.3, 700,17.5, 1000,16.9, 1500,16.6, 2000,16.4, 3000,16.0, 4000,15.7, 5000,15.5, 6000,15.3, 7000,15.1, 8000,15.0, 9000,14.8, 10000,14.7];
const nValX = [0,20.3, 30,23, 60,21, 80,26, 100,29.3, 120,22, 140,28, 160,21, 200,20.5, 250,20, 300,20.2, 400,20.7, 500,21, 700,22, 1000,23, 1500,23.5, 2000,24, 3000,24.3, 4000,24.6, 5000,24.8, 6000,25, 7000,25.1, 8000,25.2, 9000,25.3, 10000,25.3];
const nTrainA = [0,15.2, 15,11, 30,8, 50,5, 70,3, 100,2, 150,1.2, 200,0.8, 300,0.5, 10000,0.45];
const nValA = [0,2.7, 30,2.2, 60,1.8, 100,1.0, 150,1.3, 200,1.8, 220,2.1, 250,1.5, 300,1.0, 400,0.5, 500,1.2, 550,0.6, 700,1.0, 750,0.6, 900,0.8, 1000,0.6, 10000,0.62];
const nKl = [0,0, 100,0.2, 300,0.64, 10000,0.64];

// ---------- (o) physical distance threshold ----------
const oTrain = [0,5.2, 15,4, 30,2.5, 60,1.8, 100,1.6, 10000,1.5];
const oVal = [0,7.8, 20,6, 50,4, 100,3, 150,2.2, 200,2, 300,1.7, 500,1.5, 700,1.42, 10000,1.38];
const oTrainX = [0,13.9, 10,12, 20,11.5, 30,10, 45,6, 60,5, 80,4, 100,3.5, 150,3, 200,2.5, 300,2.0, 400,1.6, 500,1.5, 700,1.2, 1000,1.0, 1500,0.7, 2000,0.51, 3000,0.45, 5000,0.4, 10000,0.35];
const oValX = [0,1.0, 15,3.5, 30,3.0, 50,2.2, 80,3.2, 100,3.0, 140,2.0, 180,2.6, 220,1.8, 260,2.2, 300,1.6, 350,2.0, 400,1.5, 450,1.8, 500,2.16, 520,1.4, 600,1.6, 700,1.3, 800,1.4, 900,1.2, 1000,1.2, 1200,1.0, 1400,1.05, 1600,0.9, 1800,0.9, 2000,0.8, 2500,0.75, 3000,0.72, 3500,0.7, 4000,0.65, 5000,0.56, 6000,0.52, 7000,0.5, 8000,0.48, 9000,0.46, 10000,0.45];
const oTrainA = [0,0, 100,0.1, 200,0.18, 400,0.22, 1000,0.27, 3000,0.28, 10000,0.3];

// ---------- (p) z-score normalization ----------
const pTrainOsc = [3.45,3.05,3.4,3.1,3.45,3.05,3.4,3.05,3.45,3.1, 3.4,3.05,3.45,3.1,3.4,3.05,3.45,3.1,3.4,3.05, 3.45,3.1,3.4,3.05,3.45,3.1,3.4,3.05,3.45,3.1, 3.4,3.05,3.45,3.1,3.4,3.05,3.45,3.1,3.4,3.05, 3.3];
const pValOsc = [3.5,3.0,3.55,3.05,3.5,3.0,3.55,3.0,3.5,3.05, 3.55,3.0,3.5,3.05,3.5,3.0,3.55,3.05,3.5,3.0, 3.55,3.05,3.5,3.0,3.55,3.05,3.5,3.0,3.55,3.05, 3.5,3.0,3.55,3.05,3.5,3.0,3.55,3.05,3.5,3.0, 3.45];
const pTrainXOsc = [2.9,2.45,2.95,2.5,2.9,2.45,2.95,2.45,2.9,2.5, 2.95,2.45,2.9,2.5,2.9,2.45,2.95,2.5,2.9,2.45, 2.95,2.5,2.9,2.45,2.95,2.5,2.9,2.45,2.95,2.5, 2.9,2.45,2.95,2.5,2.9,2.45,2.95,2.5,2.9,2.45, 2.7];
const pValXOsc = [3.2,2.7,3.25,2.75,3.2,2.7,3.25,2.7,3.2,2.75, 3.25,2.7,3.2,2.75,3.2,2.7,3.25,2.75,3.2,2.7, 3.25,2.75,3.2,2.7,3.25,2.75,3.2,2.7,3.25,2.75, 3.2,2.7,3.25,2.75,3.2,2.7,3.25,2.75,3.2,2.7, 2.95];
const pTrain = [0,25.5, 20,5, 40,8, 60,12.9, 80,6, 110,5, 150,7, 200,7.6, 230,4.5, 260,5, 300,3.5, 350,5, 380,4, 400,29.9, 420,5, 450,4, 500,6, 550,4, 600,6.2, 650,3.8, 700,5, 750,3.5, 800,22.5, 820,4, 850,3.5, 900,5, 950,3.3, 1000,5.5, 1050,3.5, 1100,4.2, 1150,4.5, 1200,3.4, 1300,5.8, 1350,3.5, 1430,4.5, 1480,3.3, 1610,6.0, 1650,3.4, 1750,4.2, 1840,5.0, 1880,3.3, 1950,4, 2070,7.0, 2100,3.3, 2200,3.8, 2300,4.5, 2350,3.3, 2450,3.6, 2530,3.9, 2600,3.2, 2700,3.5, 2760,3.7, 2850,3.2, ...sampled(3000, 175, pTrainOsc)];
const pVal = [0,5, 30,4.5, 60,5, 100,4.2, 150,4.5, 200,3.8, 300,3.9, 400,4.5, 450,3.6, 500,3.8, 600,3.5, 700,3.9, 800,4.6, 850,3.5, 1000,3.7, 1200,3.4, 1400,3.6, 1600,3.3, 1800,3.5, 2000,3.3, 2200,3.5, 2400,3.2, 2600,3.5, 2800,3.2, ...sampled(3000, 175, pValOsc)];
const pTrainX = [0,3.5, 50,3, 100,2.8, 200,3.1, 400,2.6, 600,2.9, 800,2.6, 1000,2.8, 1300,2.5, 1600,2.85, 1900,2.5, 2200,2.9, 2500,2.45, 2800,2.85, ...sampled(3000, 175, pTrainXOsc)];
const pValX = [0,4.5, 50,3.5, 100,3.0, 200,3.3, 300,2.8, 500,3.2, 700,2.8, 900,3.1, 1200,2.75, 1500,3.2, 1800,2.75, 2100,3.2, 2400,2.7, 2700,3.15, ...sampled(3000, 175, pValXOsc)];
const pTrainA = [0,14, 10,15, 30,9, 60,5, 100,3, 150,2.5, 200,2, 250,1.7, 300,1.5, 350,3, 390,15, 400,26.9, 410,12, 430,2, 500,1.3, 600,1.5, 700,1.2, 770,5.5, 790,1.2, 900,1.1, 1070,4.3, 1090,1.0, 1200,1.0, 1300,3.5, 1320,0.9, 1380,4.3, 1400,0.9, 1500,0.85, 1610,3.5, 1630,0.8, 1760,4.3, 1780,0.8, 1920,3.3, 1940,0.75, 2040,4.3, 2060,0.7, 2500,0.6, 3000,0.54, 5000,0.48, 10000,0.42];
const pValA = [0,2.7, 50,2.2, 100,1.8, 150,1.2, 200,1.5, 300,1.3, 400,1.9, 450,1.2, 500,1.0, 600,1.2, 700,0.9, 1000,0.8, 1500,0.7, 2000,0.6, 3000,0.55, 10000,0.5];
const pKl = [0,0, 100,0.15, 200,0.25, 500,0.3, 2000,0.32, 10000,0.35];

// ---------- (q) underparameterized fully connected ----------
const qValXOsc = [1.28,1.5,1.3,1.52,1.27,1.48,1.3,1.5,1.26,1.5, 1.32,1.48,1.27,1.52,1.3,1.47,1.26,1.5,1.33,1.49, 1.27,1.5,1.3,1.48,1.26,1.51,1.32,1.47,1.27,1.5, 1.3,1.5,1.26,1.49,1.33,1.48,1.27,1.51,1.3,1.47, 1.26,1.5,1.32,1.49,1.27,1.5,1.3,1.48,1.26,1.51, 1.33,1.47,1.27,1.5,1.3,1.5,1.26,1.48,1.32,1.49, 1.27,1.51,1.3,1.47,1.26,1.5,1.33,1.48,1.27,1.5, 1.3,1.49,1.26,1.5,1.32,1.45];
const qTrain = [0,7.92, 15,5, 30,3, 50,2, 100,1.6, 200,1.45, 10000,1.35];
const qVal = [0,7.7, 20,5, 50,3.5, 100,2, 200,1.5, 10000,1.35];
const qTrainX = [0,3.14, 10,2.5, 20,1.9, 40,1.6, 60,1.48, 100,1.4, 150,1.3, 200,1.28, 260,1.45, 300,1.3, 380,1.45, 420,1.28, 500,1.42, 560,1.26, 640,1.42, 700,1.3, 780,1.42, 840,1.26, 920,1.4, 1000,1.3, 1050,1.35, 10000,1.3];
const qValX = [0,7.79, 10,6, 20,4.5, 40,3.2, 50,3.5, 60,4.02, 70,3, 100,2.03, 120,1.9, 150,2.12, 180,1.8, 250,1.6, 300,1.5, 350,1.62, 400,1.45, ...sampled(500, 125, qValXOsc)];
const qKl = [0,0.16, 20,0.1, 60,0.05, 100,0.03, 10000,0.02];

// ---------- (r) fully connected with batch correction ----------
const rTrainX = [0,10.1, 10,8.5, 20,6.5, 35,5, 50,4, 65,3.4, 80,3.0, 100,2.8, 110,2.75, 120,3.05, 150,2.95, 200,2.85, 230,2.55, 250,2.5, 300,2.85, 350,2.7, 400,2.5, 450,2.55, 500,2.45, 560,2.7, 740,2.63, 760,2.37, 975,2.35, 990,2.73, 1170,2.65, 1190,2.31, 1405,2.3, 1420,2.7, 1600,2.63, 1620,2.39, 1835,2.37, 1850,2.73, 2030,2.65, 2050,2.31, 2265,2.3, 2280,2.69, 2460,2.62, 2480,2.38, 2695,2.36, 2710,2.72, 2890,2.65, 2910,2.31, 3125,2.3, 3140,2.7, 3320,2.63, 3340,2.38, 3555,2.37, 3570,2.72, 3750,2.65, 3770,2.31, 3985,2.3, 4000,2.69, 4180,2.63, 4200,2.38, 4415,2.37, 4430,2.72, 4610,2.65, 4630,2.31, 4845,2.3, 4860,2.7, 5040,2.63, 5060,2.37, 5275,2.36, 5290,2.71, 5470,2.64, 5490,2.31, 5705,2.3, 5720,2.69, 5900,2.62, 5920,2.37, 6135,2.36, 6150,2.71, 6330,2.65, 6350,2.31, 6565,2.3, 6580,2.7, 6760,2.63, 6780,2.37, 6995,2.36, 7010,2.7, 7190,2.63, 7210,2.31, 7400,2.27];
const rValX = [0,10, 15,8, 30,7, 50,5.5, 70,4.5, 100,3.93, 150,3.3, 200,2.98, 250,2.85, 300,3.07, 330,2.6, 370,2.7, 400,2.8, 450,2.6, 500,2.5, 560,2.75, 740,2.68, 760,2.42, 975,2.4, 990,2.78, 1170,2.7, 1190,2.36, 1405,2.35, 1420,2.75, 1600,2.68, 1620,2.44, 1835,2.42, 1850,2.78, 2030,2.7, 2050,2.36, 2265,2.35, 2280,2.74, 2460,2.67, 2480,2.43, 2695,2.41, 2710,2.77, 2890,2.7, 2910,2.36, 3125,2.35, 3140,2.75, 3320,2.68, 3340,2.43, 3555,2.42, 3570,2.77, 3750,2.7, 3770,2.36, 3985,2.35, 4000,2.74, 4180,2.68, 4200,2.43, 4415,2.42, 4430,2.77, 4610,2.7, 4630,2.36, 4845,2.35, 4860,2.75, 5040,2.68, 5060,2.42, 5275,2.41, 5290,2.76, 5470,2.69, 5490,2.36, 5705,2.35, 5720,2.74, 5900,2.67, 5920,2.42, 6135,2.41, 6150,2.76, 6330,2.7, 6350,2.36, 6565,2.35, 6580,2.75, 6760,2.68, 6780,2.42, 6995,2.41, 7010,2.75, 7190,2.68, 7210,2.36, 7400,2.32];

// ---------- (s) separate FC layers for ZINB parameters ----------
const sTrain = [0,21.4, 10,16, 20,10, 35,7, 50,5, 75,4, 100,3.5, 150,3.0, 200,2.79, 300,2.7, 400,2.65, 480,2.85, 520,2.6, 600,2.5, 700,2.35, 800,2.25, 900,2.1, 1000,2.05, 2000,2.0, 3000,2.0, 5000,1.99];
const sVal = [0,9.2, 15,8.5, 30,7, 50,6, 80,5.0, 120,4, 150,3.5, 200,3.0, 300,2.5, 400,2.3, 600,2.2, 800,1.9, 1000,1.76, 2000,1.74, 5000,1.73];
const sTrainX = [0,7.8, 8,5.5, 20,3, 40,2, 80,1.7, 200,1.55, 5000,1.45];
const sValX = [0,7.76, 20,6.5, 50,5, 80,3.5, 100,3, 150,2.2, 200,1.8, 300,1.5, 600,1.4, 1000,1.35, 5000,1.28];
const sTrainA = [0,13.8, 10,12, 20,10, 30,8, 40,6, 60,4, 80,3, 120,2, 150,1.5, 200,1.2, 300,1.0, 500,0.8, 700,0.65, 1000,0.45, 5000,0.45];
const sValA = [0,1.2, 15,1.8, 30,2.3, 45,1.9, 60,2.1, 80,1.6, 100,1.5, 150,1.3, 200,1.2, 300,0.96, 400,0.9, 500,0.85, 600,0.9, 700,0.75, 800,0.7, 900,0.6, 1000,0.48, 2000,0.46, 5000,0.45];
const sKl = [0,0, 50,0.1, 100,0.18, 200,0.25, 500,0.32, 1000,0.34, 5000,0.35];

// ---------- (t) gene-specific dropout rate ----------
const tTrain = [0,21.5, 10,15, 20,10, 35,7.5, 50,6, 80,5, 150,3.87, 300,3.55, 500,3.2, 700,3.0, 1000,2.76, 1500,2.6, 2000,2.44, 2500,2.35, 3000,2.29, 4000,2.15, 5000,2.06];
const tVal = [0,9.2, 15,8.5, 30,7, 60,6, 100,4.8, 150,4.3, 200,3.8, 300,3.5, 400,3.24, 600,3.0, 800,2.8, 1000,2.67, 1500,2.45, 2000,2.29, 2500,2.1, 3000,1.95, 4000,1.85, 5000,1.81];
const tTrainX = [0,7.7, 10,5, 30,4, 60,3.3, 100,3.08, 200,3.0, 300,2.8, 500,2.7, 1000,2.3, 2000,1.9, 5000,1.45];
const tValX = [0,7.68, 20,6.8, 50,6, 80,5.5, 100,4.98, 120,5.2, 150,4.2, 200,3.55, 300,3.2, 400,3.0, 600,2.7, 1000,2.35, 1500,2.15, 2000,1.97, 2500,1.8, 3000,1.71, 4000,1.58, 5000,1.49];
const tTrainA = [0,13.7, 10,11, 20,9, 40,7, 60,5, 80,4, 100,3, 120,2, 150,1.5, 250,1.0, 400,0.8, 700,0.6, 1000,0.48, 5000,0.45];
const tValA = [0,1.3, 15,2.0, 30,2.2, 45,1.8, 60,2.1, 100,1.5, 150,1.2, 200,1.0, 300,0.95, 500,0.86, 700,0.75, 900,0.6, 1000,0.5, 2000,0.4, 5000,0.35];
const tKl = [0,0, 50,0.12, 100,0.2, 200,0.28, 500,0.38, 5000,0.38];

// ---------- (u) constant dropout rate ----------
const uTrain = [0,21.4, 10,16, 20,12, 30,9, 40,7, 60,5.5, 100,4.5, 150,4.0, 300,3.58, 600,3.05, 1000,2.63, 1500,2.45, 2000,2.3, 3000,2.15, 4000,2.1, 5000,2.06];
const uVal = [0,9.0, 20,8.5, 50,7.5, 80,6, 100,5.2, 150,4.4, 200,3.8, 300,3.5, 400,3.25, 600,2.95, 800,2.7, 1000,2.55, 1500,2.26, 2000,2.15, 2500,2.0, 3000,1.95, 4000,1.85, 5000,1.77];
const uTrainX = [0,7.5, 10,5.5, 15,4.7, 30,4, 60,3.6, 100,3.4, 200,3.2, 400,2.8, 700,2.5, 1000,2.3, 2000,1.9, 5000,1.45];
const uValX = [0,7.7, 20,7, 40,6.5, 60,6, 80,5.2, 100,4.8, 150,4.0, 200,3.5, 300,3.1, 400,2.84, 700,2.6, 1000,2.35, 1500,2.15, 2000,1.93, 3000,1.7, 4000,1.55, 5000,1.44];
const uTrainA = [0,13.8, 10,11, 20,9, 30,7.5, 40,7, 60,5, 80,3, 120,2, 150,1.5, 300,1.0, 600,0.7, 1000,0.5, 5000,0.45];
const uValA = [0,1.3, 15,2, 30,2.3, 45,1.8, 60,2.2, 100,1.5, 150,1.3, 200,1.2, 300,0.99, 500,0.9, 700,0.8, 900,0.6, 1000,0.49, 2000,0.42, 5000,0.4];
const uKl = [0,0, 100,0.15, 200,0.25, 500,0.37, 5000,0.4];

// ---------- (v) gene-specific dispersion ----------
const vTrain = [0,21.8, 10,15, 20,10, 35,7, 60,5, 100,4, 150,3.3, 300,3.04, 600,2.83, 800,2.7, 1000,2.54, 2000,2.45, 5000,2.41];
const vVal = [0,9.2, 20,8.5, 50,7.5, 80,5.3, 100,4.5, 150,3.5, 200,3.0, 300,2.75, 500,2.55, 800,2.4, 1500,2.2, 5000,2.11];
const vTrainX = [0,8, 10,5, 30,3, 60,2.3, 100,2.1, 300,2.0, 5000,1.9];
const vValX = [0,7.82, 20,6, 40,5, 60,4, 100,3.2, 150,2.54, 250,2.2, 400,1.99, 1000,1.9, 5000,1.77];
const vTrainA = [0,13.6, 10,10, 20,7.5, 30,6, 45,4, 60,3, 90,2, 120,1.5, 200,1.1, 300,0.8, 600,0.6, 1000,0.5, 5000,0.45];
const vValA = [0,1.5, 15,2, 30,2.3, 45,1.9, 60,2.1, 100,1.3, 200,1.2, 400,1.06, 600,0.9, 800,0.7, 1000,0.42, 5000,0.4];
const vKl = [0,0, 100,0.15, 200,0.3, 400,0.42, 5000,0.45];

// ---------- panel layout ----------
type Series = { label: string; color: string; data: number[]; width?: number };
type Panel = {
  key: string;
  frame: [number, number, number, number];
  clip: [number, number, number, number];
  xDomain: [number, number];
  yDomain: [number, number];
  xTicks: number[];
  yTicks: number[];
  series: Series[];
};

const five = (d: number[][], widths: (number | undefined)[] = []): Series[] =>
  d.map((data, i) => ({ label: L5[i], color: [BLUE, ORANGE, GREEN, RED, PURPLE][i], data, width: widths[i] }));
const seven = (d: number[][], widths: (number | undefined)[] = []): Series[] =>
  d.map((data, i) => ({ label: L7[i], color: [BLUE, ORANGE, GREEN, RED, PURPLE, BROWN, PINK][i], data, width: widths[i] }));

const PANELS: Panel[] = [
  { key: "a", frame: [31, 85, 401, 325], clip: [0, 75, 410, 348], xDomain: [-500, 10500], yDomain: [-38.7, 806], xTicks: X10K, yTicks: Y800,
    series: five([aTrainX, aValX, aTrainA, aValA, aKl]) },
  { key: "b", frame: [432.5, 82.7, 807, 322.7], clip: [413, 75, 812, 348], xDomain: [-500, 10500], yDomain: [-23.8, 498.8], xTicks: X10K, yTicks: Y400,
    series: five([bTrainX, bValX, bTrainA, bValA, bKl], [undefined, 2.5]) },
  { key: "c", frame: [832, 81.7, 1202, 322.7], clip: [818, 75, 1210, 348], xDomain: [-12.85, 269.85], yDomain: [-4, 79.5], xTicks: X250, yTicks: Y70,
    series: five([cTrainX, cValX, cTrainA, cValA, cKl]) },
  { key: "d", frame: [1233.5, 80, 1603, 319.3], clip: [1206, 72, 1628, 348], xDomain: [-500, 10500], yDomain: [-34.7, 641], xTicks: X10K, yTicks: Y600,
    series: five([dTrainX, dValX, dTrainA, dValA, dKl]) },
  { key: "az", frame: [20.8, 405.7, 398.8, 648.3], clip: [0, 398, 405, 672], xDomain: [-550, 10500], yDomain: [0, 15], xTicks: X10K, yTicks: Y14,
    series: five([aTrainX, aValX, aTrainA, aValA, aKl], [undefined, 3]) },
  { key: "bz", frame: [428.3, 401.7, 807.4, 649], clip: [405, 395, 812, 672], xDomain: [-500, 10500], yDomain: [0, 15], xTicks: X10K, yTicks: Y14,
    series: five([bTrainX, bValX, bTrainA, bValA, bKl], [undefined, 8]) },
  { key: "e", frame: [834.8, 405, 1207, 646], clip: [820, 398, 1210, 672], xDomain: [-500, 10500], yDomain: [-1.34, 28.05], xTicks: X10K, yTicks: Y25,
    series: five([eTrainX, eValX, eTrainA, eValA, eKl], [undefined, 3.5]) },
  { key: "f", frame: [1235.6, 405, 1607.4, 646], clip: [1210, 398, 1628, 672], xDomain: [-500, 10500], yDomain: [-3.4, 70.2], xTicks: X10K, yTicks: Y70,
    series: [fTrain, fVal, fTrainX, fValX, fTrainA, fValA, fKl, fTrainDAe, fValDAe, fTrainDD, fValDD].map((data, i) => ({
      label: LF[i], color: [BLUE, ORANGE, GREEN, RED, PURPLE, BROWN, PINK, GRAY, OLIVE, CYAN, BLUE][i], data })) },
  { key: "g", frame: [19.7, 725, 394.6, 966.7], clip: [0, 720, 408, 992], xDomain: [-157, 3175], yDomain: [1.91, 10.5], xTicks: X3K, yTicks: Y2to10,
    series: five([gTrainX, gValX]) },
  { key: "h", frame: [429.9, 722.3, 806.3, 966.7], clip: [408, 715, 814, 992], xDomain: [-500, 10500], yDomain: [-1.24, 24.6], xTicks: X10K, yTicks: Y20,
    series: five([hTrainX, hValX, hTrainA, hValA, hKl], [undefined, 3.5]) },
  { key: "i", frame: [828.5, 720, 1207, 964.3], clip: [815, 712, 1212, 992], xDomain: [-500, 10500], yDomain: [-1.1, 22.3], xTicks: X10K, yTicks: Y20,
    series: seven([iTrain, iVal, iTrainX, iValX, iTrainA, iValA, iKl], [2, 2, undefined, 2]) },
  { key: "j", frame: [1237.2, 720, 1607.4, 961], clip: [1212, 712, 1628, 992], xDomain: [-500, 10500], yDomain: [-1.15, 22.5], xTicks: X10K, yTicks: Y20,
    series: seven([jTrain, jVal, jTrainX, jValX, jTrainA, jValA, jKl]) },
  { key: "k", frame: [20.8, 1044, 398.8, 1286], clip: [0, 1040, 408, 1306], xDomain: [-520, 10500], yDomain: [-0.2, 14.15], xTicks: X10K, yTicks: Y14,
    series: five([kTrainX, kValX, kTrainA, kValA], [undefined, 5]) },
  { key: "l", frame: [436.1, 1046.7, 808.4, 1286], clip: [412, 1040, 814, 1306], xDomain: [-430, 7985], yDomain: [0, 30], xTicks: X7K, yTicks: Y30,
    series: five([lTrainX, lValX, lTrainA, lValA, lKl]) },
  { key: "m", frame: [845.5, 1045.7, 1214.5, 1286.7], clip: [814, 1040, 1216, 1306], xDomain: [-500, 10500], yDomain: [-0.25, 14.64], xTicks: X10K, yTicks: Y14,
    series: five([mTrainX, mValX, mTrainA, mValA]) },
  { key: "n", frame: [1237.2, 1045, 1604.8, 1284], clip: [1216, 1040, 1628, 1306], xDomain: [-500, 10500], yDomain: [-2.17, 43.5], xTicks: X10K, yTicks: Y40,
    series: seven([nTrain, nVal, nTrainX, nValX, nTrainA, nValA, nKl], [2, 2.6, 2, 2.6]) },
  { key: "o", frame: [21.8, 1366.7, 401.3, 1612.7], clip: [0, 1360, 410, 1632], xDomain: [-520, 10500], yDomain: [-0.68, 14.5], xTicks: X10K, yTicks: Y14,
    series: [oTrain, oVal, oTrainX, oValX, oTrainA].map((data, i) => ({ label: LO[i], color: [BLUE, ORANGE, GREEN, RED, PURPLE][i], data, width: [undefined, 5, undefined, 2, undefined][i] })) },
  { key: "p", frame: [433.5, 1365, 808.4, 1606], clip: [410, 1358, 814, 1632], xDomain: [-530, 10530], yDomain: [-1.4, 31.2], xTicks: X10K, yTicks: Y30,
    series: seven([pTrain, pVal, pTrainX, pValX, pTrainA, pValA, pKl]) },
  { key: "q", frame: [841, 1368.3, 1211.2, 1608.3], clip: [814, 1360, 1212, 1632], xDomain: [-530, 10520], yDomain: [-0.45, 8.24], xTicks: X10K, yTicks: Y8,
    series: [qTrain, qVal, qTrainX, qValX, qKl].map((data, i) => ({ label: LQ[i], color: [BLUE, ORANGE, GREEN, RED, PURPLE][i], data })) },
  { key: "r", frame: [1233.5, 1366, 1607.4, 1607.3], clip: [1211, 1358, 1628, 1632], xDomain: [-372, 7770], yDomain: [1.9, 10.5], xTicks: X7K, yTicks: Y2to10,
    series: five([rTrainX, rValX]) },
  { key: "s", frame: [23.4, 1689.3, 399.8, 1932.7], clip: [0, 1684, 410, 1950], xDomain: [-250, 5250], yDomain: [-1.0, 22.4], xTicks: X5K, yTicks: Y20,
    series: seven([sTrain, sVal, sTrainX, sValX, sTrainA, sValA, sKl]) },
  { key: "t", frame: [429.5, 1688.3, 808.5, 1935], clip: [410, 1682, 814, 1950], xDomain: [-250, 5250], yDomain: [-1.05, 22.45], xTicks: X5K, yTicks: Y20,
    series: seven([tTrain, tVal, tTrainX, tValX, tTrainA, tValA, tKl]) },
  { key: "u", frame: [837, 1691, 1213, 1935], clip: [814, 1684, 1218, 1950], xDomain: [-250, 5250], yDomain: [-0.1, 30], xTicks: X5K, yTicks: Y30,
    series: seven([uTrain, uVal, uTrainX, uValX, uTrainA, uValA, uKl]) },
  { key: "v", frame: [1239.8, 1688.3, 1608.4, 1925], clip: [1218, 1682, 1628, 1950], xDomain: [-260, 5250], yDomain: [0, 30], xTicks: X5K, yTicks: Y30,
    series: seven([vTrain, vVal, vTrainX, vValX, vTrainA, vValA, vKl]) },
];

type Title = { x: number; base: [number, number]; text: [string, string]; w: [number, number] };
const TITLES: Title[] = [
  { x: 6, base: [30.5, 65], text: ["a) Overparameterized model", "(latent size = 6000)"], w: [311.6, 205.6] },
  { x: 417, base: [30.5, 65], text: ["b) Overparameterized model, no", "feature decoder (latent size = 6000)"], w: [352.5, 383.7] },
  { x: 825.4, base: [30.5, 65], text: ["c) Overparameterized model, no", "adjacency decoder (latent size =6000)"], w: [350.5, 408] },
  { x: 1247.5, base: [30.5, 65], text: ["d) Overparameterized model", "(latent size =5000)"], w: [312.5, 200] },
  { x: 834.8, base: [359, 393], text: ["e) Overparameterized model", "(latent size =4096)"], w: [311.5, 198.2] },
  { x: 1247.5, base: [359, 393], text: ["f) Overparameterized model with", "adversarial loss (latent size =4096)"], w: [360.9, 370.2] },
  { x: 6.2, base: [685, 719.3], text: ["g) Overparameterized fully", "connected model (latent size = 5000)"], w: [289.8, 398.8] },
  { x: 419.5, base: [685, 719.3], text: ["h) Overparameterized with 10 nearest", "neighbors (latent size = 3072)"], w: [409.5, 316.7] },
  { x: 842.6, base: [685, 718.3], text: ["i) Underparameterized model", "(latent size = 1024)"], w: [318.2, 203.4] },
  { x: 1238.7, base: [685, 718.3], text: ["j) Underparameterized model,", "trained with c13 (latent size = 1024)"], w: [326.6, 385.3] },
  { x: 6.2, base: [1002, 1036.7], text: ["k) Underparameterized model with", "adversarial loss (latent size = 1024)"], w: [380.6, 376.8] },
  { x: 417, base: [1002, 1036.7], text: ["l) Fully connected model with", "adjacency decoder (latent size = 1024)"], w: [319.2, 411] },
  { x: 840, base: [1000.7, 1035.7], text: ["m) NB loss for feature decoder", "(latent size = 1024)"], w: [329.7, 203.5] },
  { x: 1237.2, base: [1000.7, 1035.7], text: ["n) MSE loss for feature decoder,", "trained with c13 (latent size = 1024)"], w: [344.2, 385.8] },
  { x: 6.2, base: [1320.7, 1354], text: ["o) Physical distance threshold for", "adjacency matrix (latent size = 1024)"], w: [357.2, 394.6] },
  { x: 437.7, base: [1320.7, 1354], text: ["p) z-score normalization of gene", "expression (latent size = 1024)"], w: [345.3, 325.5] },
  { x: 825.4, base: [1324, 1359.3], text: ["q) Underparameterized fully", "connected model (latent size = 1024)"], w: [304.3, 397.7] },
  { x: 1232, base: [1324, 1359.3], text: ["r) Fully connected model with batch", "correction (latent size = 5000)"], w: [386.8, 320] },
  { x: 5.2, base: [1646.7, 1680.7], text: ["s) Separate FC layers for ZINB parameters,", "trained with c13 (latent size = 1024)"], w: [449.1, 385.2] },
  { x: 467.3, base: [1646.7, 1680.7], text: ["t) Gene-specific dropout rate,", "trained with c13 (latent size = 1024)"], w: [319.3, 385.2] },
  { x: 870, base: [1646, 1680], text: ["u) Constant dropout rate, trained", "with c13 (latent size = 1024)"], w: [357.8, 302.3] },
  { x: 1243.9, base: [1646, 1680], text: ["v) Gene-specific dispersion, trained", "with c13 (latent size = 1024)"], w: [379.1, 303.1] },
];

const ARROWS = [
  { cx: 209, text: "zoom in", tx: 233, tw: 84 },
  { cx: 608.5, text: "zoom in", tx: 630, tw: 84 },
];

const AXIS = "#3a3a3a";
const TICK_FONT = "'DejaVu Sans', sans-serif";

function PanelView({ p }: { p: Panel }) {
  const [fx0, fy0, fx1, fy1] = p.frame;
  const [cx0, cy0, cx1, cy1] = p.clip;
  const x = d3.scaleLinear().domain(p.xDomain).range([fx0, fx1]);
  const y = d3.scaleLinear().domain(p.yDomain).range([fy1, fy0]);
  const line = d3.line<Pt>().x((d) => x(d[0])).y((d) => y(d[1]));
  const maxLen = Math.max(...p.series.map((s) => s.label.length));
  const lw = maxLen * 5.4 + 39;
  const lx = fx1 - 6 - lw;
  const ly = fy0 + 6;
  const rowH = 16.6;
  const lh = p.series.length * rowH + 3;
  const xLabelY = Math.min(fy1 + 14.5, 1946.5);
  return (
    <g clipPath={`url(#pc-${p.key})`}>
      <defs>
        <clipPath id={`pc-${p.key}`}>
          <rect x={cx0} y={cy0} width={cx1 - cx0} height={cy1 - cy0} />
        </clipPath>
        <clipPath id={`fc-${p.key}`}>
          <rect x={fx0} y={fy0} width={fx1 - fx0} height={fy1 - fy0} />
        </clipPath>
      </defs>
      <g clipPath={`url(#fc-${p.key})`}>
        {p.series.map((s, i) => (
          <path key={i} d={line(pairs(s.data)) || ""} fill="none" stroke={s.color}
            strokeWidth={s.width ?? 1.6} strokeLinejoin="round" strokeLinecap="butt" />
        ))}
      </g>
      <rect x={fx0} y={fy0} width={fx1 - fx0} height={fy1 - fy0} fill="none" stroke={AXIS} strokeWidth={1.1} />
      {p.yTicks.map((t) => (
        <g key={`y${t}`}>
          <line x1={fx0 - 3.5} x2={fx0} y1={y(t)} y2={y(t)} stroke={AXIS} strokeWidth={1} />
          <text x={fx0 - 6} y={y(t) + 3.8} textAnchor="end" fontFamily={TICK_FONT} fontSize={10.5} fill="#333">{t}</text>
        </g>
      ))}
      {p.xTicks.map((t) => (
        <g key={`x${t}`}>
          <line x1={x(t)} x2={x(t)} y1={fy1} y2={fy1 + 3.5} stroke={AXIS} strokeWidth={1} />
          <text x={x(t)} y={xLabelY} textAnchor="middle" fontFamily={TICK_FONT} fontSize={10.5} fill="#333">{t}</text>
        </g>
      ))}
      <g>
        <rect x={lx} y={ly} width={lw} height={lh} rx={2.5} fill="#ffffff" fillOpacity={0.8} stroke="#d0d0d0" strokeWidth={1} />
        {p.series.map((s, i) => {
          const cy = ly + 8.6 + i * rowH;
          return (
            <g key={`l${i}`}>
              <line x1={lx + 5} x2={lx + 28} y1={cy} y2={cy} stroke={s.color} strokeWidth={2} />
              <text x={lx + 34} y={cy + 3.8} fontFamily={TICK_FONT} fontSize={11} fill="#262626">{s.label}</text>
            </g>
          );
        })}
      </g>
    </g>
  );
}

export default function App() {
  return (
    <svg width={1628} height={1950} viewBox="0 0 1628 1950"
      style={{ position: "absolute", left: 0, top: 0, display: "block", background: "#ffffff" }}>
      <rect x={0} y={0} width={1628} height={1950} fill="#ffffff" />
      {PANELS.map((p) => (
        <PanelView key={p.key} p={p} />
      ))}
      {ARROWS.map((a, i) => (
        <g key={`arrow${i}`}>
          <path
            d={`M${a.cx - 4.5},340 L${a.cx + 4.5},340 L${a.cx + 4.5},379 L${a.cx + 10},379 L${a.cx},390 L${a.cx - 10},379 L${a.cx - 4.5},379 Z`}
            fill="#3b5fb0" stroke="#2f4f8f" strokeWidth={1} />
          <text x={a.tx} y={372} fontFamily="Lato, 'Open Sans', sans-serif" fontSize={23} fill="#111"
            textLength={a.tw} lengthAdjust="spacingAndGlyphs">{a.text}</text>
        </g>
      ))}
      {TITLES.map((t, i) => (
        <g key={`title${i}`}>
          {t.text.map((line, j) => (
            <text key={j} x={t.x} y={t.base[j]} fontFamily="Lato, 'Open Sans', sans-serif" fontSize={23} fill="#111"
              textLength={t.w[j]} lengthAdjust="spacingAndGlyphs">{line}</text>
          ))}
        </g>
      ))}
    </svg>
  );
}
